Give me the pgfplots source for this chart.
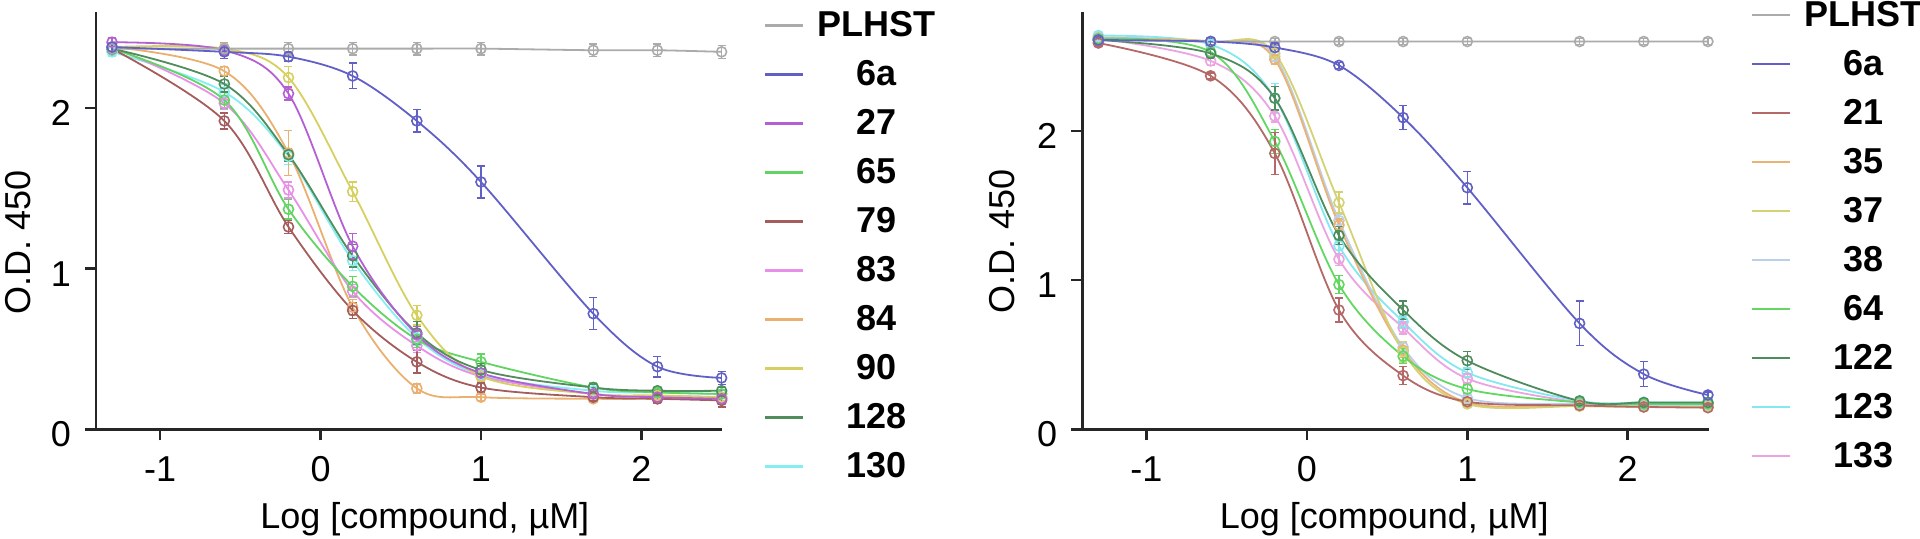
\documentclass[border=0pt]{standalone}
\usepackage{pgfplots}
\pgfplotsset{compat=1.18}
\usepackage{pgfplotstable}
\usepackage{fontspec}
\setmainfont{Liberation Sans}

\definecolor{cPL}{HTML}{ABABAB}
\definecolor{c6a}{HTML}{6060C6}
\definecolor{c27}{HTML}{B460D4}
\definecolor{c65}{HTML}{62D462}
\definecolor{c79}{HTML}{A45C5C}
\definecolor{c83}{HTML}{E890E8}
\definecolor{c84}{HTML}{EAB070}
\definecolor{c90}{HTML}{D6D060}
\definecolor{c128}{HTML}{508C5C}
\definecolor{c130}{HTML}{84EEF0}
\definecolor{c21}{HTML}{B46868}
\definecolor{c35}{HTML}{EAB274}
\definecolor{c37}{HTML}{D4D274}
\definecolor{c38}{HTML}{BCD0EA}
\definecolor{c64}{HTML}{62D862}
\definecolor{c122}{HTML}{4E8C5E}
\definecolor{c123}{HTML}{84E8F0}
\definecolor{c133}{HTML}{EAA4E2}

\newcommand{\Fnt}{\fontsize{18}{21.6}\selectfont}

\pgfplotstableread{
x    PL   ePL  A6   eA6   B27  e27  B65  e65  B79  e79  B83  e83  B84   e84  B90  e90  B128 e128 B130 e130
-1.3 2.37 0.04 2.38 0.03  2.41 0.03 2.37 0.03 2.37 0.03 2.38 0.03 2.38  0.03 2.38 0.03 2.37 0.03 2.35 0.03
-0.6 2.37 0.04 2.35 0.04  2.36 0.03 2.05 0.05 1.92 0.05 2.03 0.04 2.23  0.03 2.37 0.03 2.15 0.05 2.10 0.05
-0.2 2.37 0.04 2.32 0.03  2.09 0.04 1.37 0.06 1.26 0.04 1.49 0.05 1.72  0.14 2.19 0.07 1.71 0.04 1.70 0.05
0.2  2.37 0.04 2.20 0.08  1.14 0.08 0.89 0.06 0.74 0.05 0.86 0.04 0.76  0.05 1.48 0.06 1.08 0.07 1.05 0.06
0.6  2.37 0.04 1.92 0.07  0.59 0.05 0.56 0.05 0.42 0.07 0.52 0.04 0.255 0.03 0.71 0.06 0.60 0.07 0.57 0.05
1.0  2.37 0.04 1.54 0.10  0.35 0.03 0.42 0.05 0.26 0.03 0.33 0.03 0.20  0.02 0.33 0.03 0.37 0.04 0.34 0.03
1.7  2.36 0.04 0.72 0.10  0.22 0.02 0.26 0.03 0.20 0.02 0.22 0.02 0.19  0.02 0.22 0.02 0.26 0.02 0.24 0.02
2.1  2.36 0.04 0.39 0.065 0.20 0.02 0.23 0.02 0.19 0.03 0.21 0.02 0.19  0.02 0.21 0.02 0.24 0.02 0.23 0.02
2.5  2.35 0.04 0.32 0.04  0.19 0.03 0.22 0.02 0.18 0.04 0.20 0.02 0.19  0.02 0.20 0.02 0.24 0.02 0.22 0.02
}\Ltab

\pgfplotstableread{
x    PL   ePL  A6   eA6   B21   e21  B35  e35  B37   e37  B38  e38  B64  e64  B122 e122 B123 e123 B133 e133
-1.3 2.61 0.02 2.61 0.02  2.59  0.02 2.62 0.02 2.62  0.02 2.63 0.02 2.62 0.02 2.61 0.02 2.64 0.02 2.62 0.02
-0.6 2.60 0.02 2.60 0.02  2.37  0.02 2.60 0.02 2.60  0.02 2.60 0.02 2.53 0.03 2.52 0.03 2.58 0.03 2.47 0.03
-0.2 2.60 0.02 2.56 0.03  1.85  0.14 2.48 0.03 2.52  0.03 2.50 0.03 1.93 0.08 2.22 0.08 2.22 0.10 2.10 0.04
0.2  2.60 0.02 2.44 0.02  0.80  0.08 1.37 0.04 1.52  0.07 1.40 0.04 0.97 0.06 1.30 0.06 1.23 0.05 1.14 0.04
0.6  2.60 0.02 2.09 0.08  0.36  0.06 0.53 0.05 0.52  0.07 0.55 0.04 0.49 0.05 0.80 0.06 0.72 0.04 0.68 0.04
1.0  2.60 0.02 1.62 0.11  0.185 0.02 0.18 0.02 0.17  0.02 0.21 0.02 0.27 0.03 0.46 0.06 0.38 0.03 0.34 0.03
1.7  2.60 0.02 0.71 0.15  0.16  0.02 0.16 0.02 0.155 0.02 0.17 0.02 0.18 0.02 0.19 0.02 0.19 0.02 0.18 0.02
2.1  2.60 0.02 0.37 0.085 0.15  0.02 0.15 0.02 0.15  0.02 0.16 0.02 0.17 0.02 0.18 0.02 0.18 0.02 0.17 0.02
2.5  2.60 0.02 0.23 0.02  0.145 0.02 0.15 0.02 0.15  0.02 0.16 0.02 0.17 0.02 0.18 0.02 0.18 0.02 0.17 0.02
}\Rtab

\pgfplotsset{
  ser/.style={color=#1, line width=0.9pt, smooth, tension=0.55, mark=o, mark size=2.5pt,
    mark options={solid, fill=white, line width=0.8pt},
    error bars/y dir=both, error bars/y explicit,
    error bars/error bar style={line width=0.7pt},
    error bars/error mark options={line width=0.7pt, mark size=2pt, rotate=90}},
  panel/.style={
    scale only axis, width=313.2pt, height=208.8pt,
    xmin=-1.4, xmax=2.505, ymin=0,
    clip=false,
    axis lines*=left,
    axis line style={-, line width=1.3pt, black!85},
    tick style={line width=1.3pt, black!85},
    tick align=outside, major tick length=5.5pt,
    xtick={-1,0,1,2}, ytick={0,1,2},
    /pgf/number format/assume math mode=true,
    tick label style={font=\Fnt},
    yticklabel style={xshift=-3.5pt, yshift=-2.6pt},
    xticklabel style={yshift=-4.5pt},
    xlabel={Log [compound, µM]},
    ylabel={O.D. 450},
    legend image code/.code={\draw[##1, line width=1.3pt] (0pt,0pt) -- (19pt,0pt);},
    legend cell align=left,
    legend style={draw=none, fill=none, inner sep=0pt, outer sep=0pt,
      row sep=0pt, column sep=6pt, font=\Fnt\bfseries,
      nodes={inner sep=0pt, text width=60pt, align=center, minimum height=24.5pt}},
  }
}

\begin{document}
\begin{tikzpicture}
\useasboundingbox (0,0) rectangle (960pt,-269.5pt);

% ---------------- left panel ----------------
\begin{axis}[panel, at={(48pt,-214.65pt)}, anchor=south west, ymax=2.6,
  every axis y label/.style={at={(axis description cs:-0.1245,0.4485)}, rotate=90, anchor=center, font=\Fnt},
  every axis x label/.style={at={(axis description cs:0.525,-0.237)}, anchor=base, font=\Fnt},
  legend style={at={(1.066,1.0252)}, anchor=north west}]
\addlegendimage{cPL}\addlegendentry{PLHST}
\addlegendimage{c6a}\addlegendentry{6a}
\addlegendimage{c27}\addlegendentry{27}
\addlegendimage{c65}\addlegendentry{65}
\addlegendimage{c79}\addlegendentry{79}
\addlegendimage{c83}\addlegendentry{83}
\addlegendimage{c84}\addlegendentry{84}
\addlegendimage{c90}\addlegendentry{90}
\addlegendimage{c128}\addlegendentry{128}
\addlegendimage{c130}\addlegendentry{130}
\addplot[forget plot, ser=c130] table[x=x, y=B130, y error=e130]{\Ltab};
\addplot[forget plot, ser=c84] table[x=x, y=B84, y error=e84]{\Ltab};
\addplot[forget plot, ser=c83] table[x=x, y=B83, y error=e83]{\Ltab};
\addplot[forget plot, ser=c65] table[x=x, y=B65, y error=e65]{\Ltab};
\addplot[forget plot, ser=c79] table[x=x, y=B79, y error=e79]{\Ltab};
\addplot[forget plot, ser=c90] table[x=x, y=B90, y error=e90]{\Ltab};
\addplot[forget plot, ser=c128] table[x=x, y=B128, y error=e128]{\Ltab};
\addplot[forget plot, ser=c27] table[x=x, y=B27, y error=e27]{\Ltab};
\addplot[forget plot, sharp plot, ser=cPL] table[x=x, y=PL, y error=ePL]{\Ltab};
\addplot[forget plot, ser=c6a] table[x=x, y=A6, y error=eA6]{\Ltab};
\end{axis}

% ---------------- right panel ----------------
\begin{axis}[panel, at={(541.15pt,-214.65pt)}, anchor=south west, ymax=2.8,
  every axis y label/.style={at={(axis description cs:-0.128,0.45)}, rotate=90, anchor=center, font=\Fnt},
  every axis x label/.style={at={(axis description cs:0.482,-0.237)}, anchor=base, font=\Fnt},
  legend style={at={(1.0675,1.0505)}, anchor=north west}]
\addlegendimage{cPL}\addlegendentry{PLHST}
\addlegendimage{c6a}\addlegendentry{6a}
\addlegendimage{c21}\addlegendentry{21}
\addlegendimage{c35}\addlegendentry{35}
\addlegendimage{c37}\addlegendentry{37}
\addlegendimage{c38}\addlegendentry{38}
\addlegendimage{c64}\addlegendentry{64}
\addlegendimage{c122}\addlegendentry{122}
\addlegendimage{c123}\addlegendentry{123}
\addlegendimage{c133}\addlegendentry{133}
\addplot[forget plot, ser=c123] table[x=x, y=B123, y error=e123]{\Rtab};
\addplot[forget plot, ser=c38] table[x=x, y=B38, y error=e38]{\Rtab};
\addplot[forget plot, ser=c133] table[x=x, y=B133, y error=e133]{\Rtab};
\addplot[forget plot, ser=c35] table[x=x, y=B35, y error=e35]{\Rtab};
\addplot[forget plot, ser=c37] table[x=x, y=B37, y error=e37]{\Rtab};
\addplot[forget plot, ser=c64] table[x=x, y=B64, y error=e64]{\Rtab};
\addplot[forget plot, ser=c122] table[x=x, y=B122, y error=e122]{\Rtab};
\addplot[forget plot, ser=c21] table[x=x, y=B21, y error=e21]{\Rtab};
\addplot[forget plot, sharp plot, ser=cPL] table[x=x, y=PL, y error=ePL]{\Rtab};
\addplot[forget plot, ser=c6a] table[x=x, y=A6, y error=eA6]{\Rtab};
\end{axis}
\end{tikzpicture}
\end{document}
